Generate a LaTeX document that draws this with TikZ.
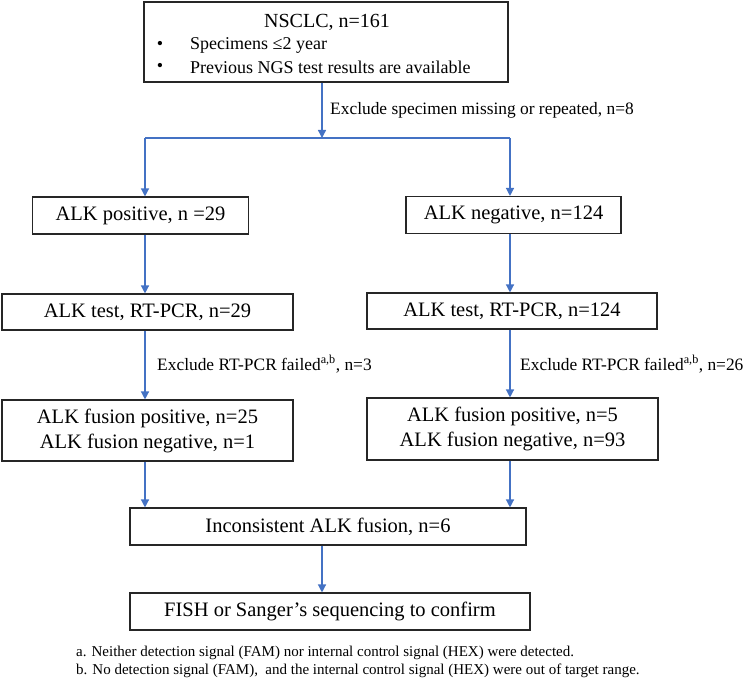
\documentclass[tikz,border=0pt]{standalone}
\usepackage{fontspec}
\setmainfont{Liberation Serif}
\usetikzlibrary{arrows.meta,calc}
\definecolor{arrblue}{HTML}{4472C4}
\definecolor{boxline}{HTML}{262626}
\tikzset{
  box/.style={draw=boxline, line width=1.1pt, rectangle, inner sep=0pt, font=\fontsize{20.5}{25}\selectfont, align=center},
  conn/.style={draw=arrblue, line width=1.3pt},
  arr/.style={conn, -{Triangle[width=8pt,length=8pt]}},
  lbl/.style={inner sep=0pt, anchor=west, font=\fontsize{17.4}{21}\selectfont},
  foot/.style={inner sep=0pt, anchor=west, font=\fontsize{15}{18}\selectfont},
  sub/.style={inner sep=0pt, font=\fontsize{18}{21}\selectfont}
}
\begin{document}
\begin{tikzpicture}[x=1pt,y=-1pt]
\useasboundingbox (0,0) rectangle (749,679);
% columns
\coordinate (colL) at (145,0);
\coordinate (colC) at (322,0);
\coordinate (colR) at (510,0);
% top box
\node[box, minimum width=364, minimum height=80] (top) at (326,42) {};
\node[inner sep=0pt, font=\fontsize{20}{24}\selectfont] (title) at (327,22) {NSCLC, n=161};
\node[sub] (b1) at (160,45) {•};
\node[sub, anchor=west] (t1) at (190,45) {Specimens ≤2 year};
\node[sub] (b2) at (160,67) {•};
\node[sub, anchor=west] (t2) at (190,67) {Previous NGS test results are available};
% level 2
\node[box, minimum width=216, minimum height=37] (pos) at (140.5,215.5) {ALK positive, n =29};
\node[box, minimum width=215, minimum height=37] (neg) at (513.5,215) {ALK negative, n=124};
% level 3
\node[box, minimum width=291, minimum height=36] (testL) at (147.5,312) {ALK test, RT-PCR, n=29};
\node[box, minimum width=290, minimum height=36] (testR) at (512,311) {ALK test, RT-PCR, n=124};
% level 4
\node[box, minimum width=291, minimum height=61] (resL) at (147.5,430.5) {ALK fusion positive, n=25\\ALK fusion negative, n=1};
\node[box, minimum width=291, minimum height=62] (resR) at (512.5,429) {ALK fusion positive, n=5\\ALK fusion negative, n=93};
% bottom
\node[box, minimum width=396, minimum height=37] (incons) at (328,526.5) {Inconsistent ALK fusion, n=6};
\node[box, minimum width=400, minimum height=37] (fish) at (330,611.5) {FISH or Sanger’s sequencing to confirm};
% split coordinates
\coordinate (split) at (colC |- 0,138);
\coordinate (splitL) at (colL |- split);
\coordinate (splitR) at (colR |- split);
% connectors
\draw[arr] (colC |- top.south) -- (split);
\draw[conn] (splitL) -- (splitR);
\draw[arr] (splitL) -- (colL |- pos.north);
\draw[arr] (splitR) -- (colR |- neg.north);
\draw[arr] (colL |- pos.south) -- (colL |- testL.north);
\draw[arr] (colR |- neg.south) -- (colR |- testR.north);
\draw[arr] (colL |- testL.south) -- (colL |- resL.north);
\draw[arr] (colR |- testR.south) -- (colR |- resR.north);
\draw[arr] (colL |- resL.south) -- (colL |- incons.north);
\draw[arr] (colR |- resR.south) -- (colR |- incons.north);
\draw[arr] (colC |- incons.south) -- (colC |- fish.north);
% labels
\node[lbl] (l1) at (330,110) {Exclude specimen missing or repeated, n=8};
\node[lbl] (l2) at (157,364) {Exclude RT-PCR failed\textsuperscript{a,b}, n=3};
\node[lbl] (l3) at (520,364) {Exclude RT-PCR failed\textsuperscript{a,b}, n=26};
% footnotes
\node[foot] (fa) at (76,653) {a. Neither detection signal (FAM) nor internal control signal (HEX) were detected.};
\node[foot] (fb) at (76,671) {b. No detection signal (FAM),\ \ and the internal control signal (HEX) were out of target range.};
\end{tikzpicture}
\end{document}
